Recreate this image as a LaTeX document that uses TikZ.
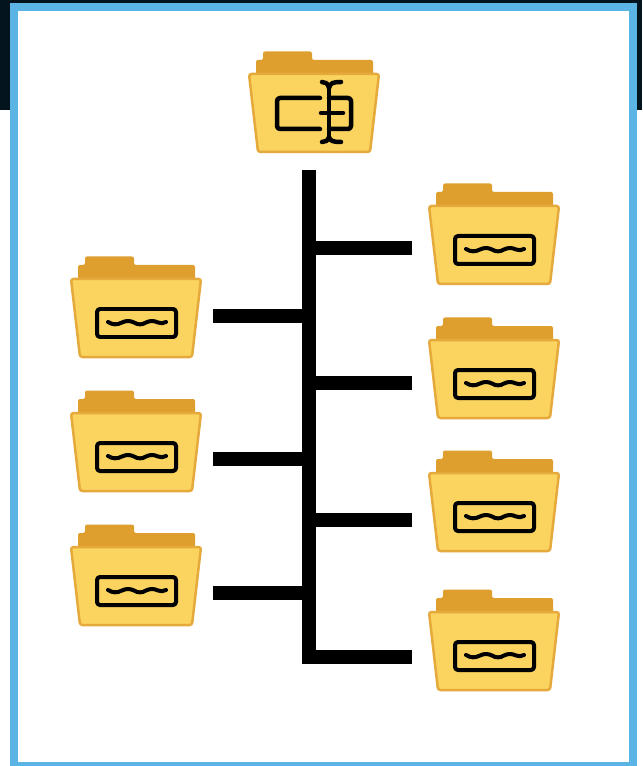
\documentclass[tikz,border=0pt]{standalone}
\usetikzlibrary{positioning}
\definecolor{framblue}{HTML}{5BB4E4}
\definecolor{navyband}{HTML}{04141F}
\definecolor{foldfront}{HTML}{FAD45F}
\definecolor{foldback}{HTML}{DF9F2E}
\definecolor{foldedge}{HTML}{E5A93C}
\tikzset{
    folderbox/.style={minimum width=3.12cm,minimum height=2cm,inner sep=0pt},
    branch/.style={line width=0.28cm,black},
    glyph/.style={line width=0.08cm,black,line cap=round,line join=round},
    pics/folderbody/.style={code={
        \fill [foldback,rounded corners=0.04cm] (-51,49.5) -- (-51,41) -- (-58,41) -- (-58,20) -- (59,20) -- (59,41) -- (-2,41) -- (-2,49.5) -- cycle;
        \draw [fill=foldfront,draw=foldedge,line width=0.05cm,rounded corners=0.05cm] (-65,27) -- (65,27) -- (56,-51) -- (-56,-51) -- cycle;
    }},
    pics/fieldmark/.style={code={
        \draw [glyph,rounded corners=0.06cm] (-39,-31) rectangle (40,-3);
        \draw [glyph] (-28,-16) .. controls (-23,-19) and (-19,-19) .. (-14,-16.5) .. controls (-10,-14.5) and (-6,-14.5) .. (-2,-16.5) .. controls (2,-19) and (6,-19) .. (10,-16.5) .. controls (14,-14.5) and (18,-14.5) .. (22,-16.5) .. controls (25,-18) and (27,-17) .. (30,-16);
    }},
    pics/rootmark/.style={code={
        \draw [glyph,line width=0.09cm,rounded corners=0.06cm] (6,3) -- (-37,3) -- (-37,-28) -- (6,-28);
        \draw [glyph,line width=0.09cm,rounded corners=0.06cm] (15,3) -- (37,3) -- (37,-28) -- (15,-28);
        \draw [glyph,line width=0.09cm] (7,-12) -- (29,-12) (15,14) -- (15,-37);
        \draw [glyph,line width=0.09cm] (8,19) .. controls (11,19) and (14,18) .. (15,13) .. controls (16,18) and (19,19) .. (27,19);
        \draw [glyph,line width=0.09cm] (8,-41) .. controls (11,-41) and (14,-40) .. (15,-36) .. controls (16,-40) and (19,-41) .. (27,-41);
    }}
}
\begin{document}
\begin{tikzpicture}[x=0.02cm,y=0.02cm]
    \useasboundingbox (0,-766) rectangle (642,0);
    % backdrop and frame
    \fill [navyband] (0,-110) rectangle (642,0);
    \fill [white] (14,-762) rectangle (633,-7);
    \draw [framblue,line width=0.17cm] (14,-770) -- (14,-7) -- (633,-7) -- (633,-770);
    \draw [framblue,line width=0.17cm] (14,-766) -- (633,-766);
    % folders
    \node [folderbox] (rootfolder) at (314,-101) {};
    \node [folderbox] (leftone) at (136,-306) {};
    \node [folderbox] (lefttwo) at (136,-440) {};
    \node [folderbox] (leftthree) at (136,-574) {};
    \node [folderbox] (rightone) at (494,-233) {};
    \node [folderbox] (righttwo) at (494,-367) {};
    \node [folderbox] (rightthree) at (494,-500) {};
    \node [folderbox] (rightfour) at (494,-639) {};
    \pic at (rootfolder) {folderbody};
    \pic at (rootfolder) {rootmark};
    \foreach \f in {leftone,lefttwo,leftthree,rightone,righttwo,rightthree,rightfour} {
        \pic at (\f) {folderbody};
        \pic at (\f) {fieldmark};
    }
    % spine
    \coordinate (spinetop) at (309,-170);
    \coordinate (spinebot) at (309,-664);
    \draw [branch] (spinetop) -- (spinebot);
    % branches
    \coordinate (brleftone) at (213,-316);
    \coordinate (brlefttwo) at (213,-459);
    \coordinate (brleftthree) at (213,-593);
    \coordinate (brrightone) at (412,-248);
    \coordinate (brrighttwo) at (412,-383);
    \coordinate (brrightthree) at (412,-520);
    \coordinate (brrightfour) at (412,-657);
    \foreach \b in {brleftone,brlefttwo,brleftthree,brrightone,brrighttwo,brrightthree,brrightfour}
        \draw [branch] (\b) -- (\b -| spinetop);
\end{tikzpicture}
\end{document}
